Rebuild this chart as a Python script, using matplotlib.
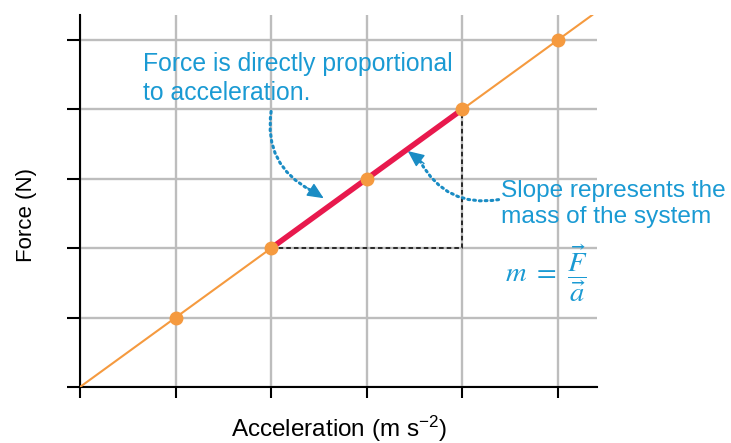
import matplotlib
matplotlib.use("Agg")
import matplotlib.pyplot as plt

plt.rcParams['font.family'] = ['Liberation Sans', 'DejaVu Sans']
plt.rcParams['mathtext.fontset'] = 'custom'
plt.rcParams['mathtext.rm'] = 'Liberation Sans'
plt.rcParams['mathtext.it'] = 'Liberation Sans:italic'

# data
accel = [1, 2, 3, 4, 5]
force = [1, 2, 3, 4, 5]
slope_x = [2, 4]
slope_y = [2, 4]
ticks = [0, 1, 2, 3, 4, 5]

blue = "#1A9AD3"
arrow_blue = "#1A8CC4"
orange = "#F59A3F"
red = "#E8194D"

fig = plt.figure(figsize=(7.31, 4.43), dpi=100)
ax = fig.add_axes([0.1094, 0.1264, 0.7073, 0.8397])

ax.set_xlim(0, 5.41)
ax.set_ylim(0, 5.36)
ax.set_xticks(ticks)
ax.set_yticks(ticks)
ax.set_xticklabels([])
ax.set_yticklabels([])
ax.grid(True, color="#BDBDBD", linewidth=1.7)
ax.set_axisbelow(True)
for s in ["top", "right"]:
    ax.spines[s].set_visible(False)
for s in ["left", "bottom"]:
    ax.spines[s].set_linewidth(1.5)
ax.tick_params(axis="x", direction="out", length=8, width=1.5)
ax.tick_params(axis="y", direction="out", length=9.5, width=1.5)

# proportional line
ax.axline((0, 0), slope=1, color=orange, linewidth=1.5, zorder=3)

# triangle for slope
ax.plot([slope_x[0], slope_x[1], slope_x[1]], [slope_y[0], slope_y[0], slope_y[1]],
        color="black", linestyle="--", linewidth=1.1, dashes=(3, 2), zorder=3)
ax.plot(slope_x, slope_y, color=red, linewidth=4, solid_capstyle="butt", zorder=4)

ax.plot(accel, force, "o", color=orange, markersize=9, zorder=5)

ax.set_xlabel("Acceleration (m s$^{-2}$)", fontsize=17.5, va="center")
ax.xaxis.set_label_coords(0.501, -0.113)
ax.set_ylabel("Force (N)", fontsize=16, va="center")
ax.yaxis.set_label_coords(-0.1025, 0.462)

ax.text(0.66, 4.83, "Force is directly proportional\nto acceleration.",
        color=blue, fontsize=17.8, va="top", ha="left", linespacing=1.25)
ax.text(4.41, 2.98, "Slope represents the\nmass of the system",
        color=blue, fontsize=17.6, va="top", ha="left", clip_on=False, linespacing=1.25)
ax.text(4.45, 1.64, r"$m\ =\ \dfrac{\vec{F}}{\vec{a}}$", color=blue, fontsize=20.5,
        va="center", ha="left", math_fontfamily="stix")

# dotted curved arrows (body dotted, head solid)
line_kw = dict(arrowstyle="-", color=arrow_blue, linewidth=2.2,
               linestyle=(0, (0.6, 1.3)), shrinkA=0, shrinkB=0)
head_kw = dict(arrowstyle="-|>,head_length=1.0,head_width=0.45", color=arrow_blue,
               linewidth=1, shrinkA=0, shrinkB=0)
ax.annotate("", xy=(2.42, 2.83), xytext=(2.0, 3.97),
            arrowprops=dict(connectionstyle="arc3,rad=0.35", **line_kw))
ax.annotate("", xy=(2.55, 2.72), xytext=(2.38, 2.87), arrowprops=head_kw)
ax.annotate("", xy=(3.56, 3.25), xytext=(4.38, 2.7),
            arrowprops=dict(connectionstyle="arc3,rad=-0.35", **line_kw))
ax.annotate("", xy=(3.43, 3.4), xytext=(3.6, 3.22), arrowprops=head_kw)

fig.savefig("out.png", dpi=100)
